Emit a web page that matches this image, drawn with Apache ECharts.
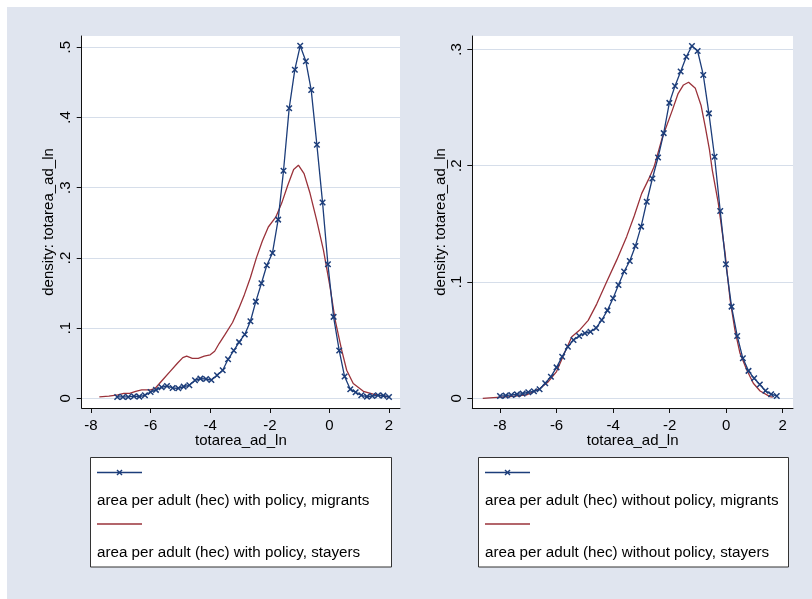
<!DOCTYPE html>
<html><head><meta charset="utf-8">
<script src="https://cdn.jsdelivr.net/npm/echarts@6/dist/echarts.min.js"></script>
<style>
html,body{margin:0;padding:0;background:#fff;}
#bg{position:absolute;left:7px;top:7px;width:805px;height:592px;background:#e0e5ef;}
#chart{position:absolute;left:0;top:0;width:812px;height:599px;}
</style></head><body>
<div id="bg"></div><div id="chart"></div>
<script>
// ---- tick labels ----
const xTicks = [-8, -6, -4, -2, 0, 2];
const yTicksLeft = [0, 0.1, 0.2, 0.3, 0.4, 0.5];
const yTicksRight = [0, 0.1, 0.2, 0.3];

// ---- series names ----
const namesLeft = ['area per adult (hec) with policy, migrants', 'area per adult (hec) with policy, stayers'];
const namesRight = ['area per adult (hec) without policy, migrants', 'area per adult (hec) without policy, stayers'];

// ---- left panel: with policy ----
const withMigrantsX = [-7.12,-6.93,-6.75,-6.56,-6.38,-6.19,-6.00,-5.82,-5.63,-5.45,-5.26,-5.07,-4.89,-4.70,-4.51,-4.33,-4.14,-3.96,-3.77,-3.58,-3.40,-3.21,-3.03,-2.84,-2.65,-2.47,-2.28,-2.10,-1.91,-1.72,-1.54,-1.35,-1.16,-0.98,-0.79,-0.61,-0.42,-0.23,-0.05,0.14,0.33,0.51,0.70,0.88,1.07,1.26,1.44,1.63,1.81,2.00];
const withMigrantsY = [0.002,0.002,0.002,0.003,0.0024,0.0043,0.009,0.012,0.0157,0.0176,0.0147,0.0142,0.0166,0.0185,0.0256,0.028,0.0275,0.026,0.0328,0.040,0.0556,0.068,0.080,0.091,0.1097,0.1377,0.1638,0.1895,0.207,0.2545,0.324,0.413,0.468,0.502,0.480,0.439,0.361,0.279,0.191,0.116,0.068,0.031,0.013,0.0085,0.0043,0.0024,0.0033,0.0043,0.0038,0.002];
const withStayersX = [-7.72,-7.4,-7.1,-6.9,-6.7,-6.5,-6.3,-6.0,-5.85,-5.6,-5.35,-5.1,-4.92,-4.79,-4.6,-4.4,-4.2,-4.0,-3.85,-3.7,-3.5,-3.25,-3.05,-2.85,-2.65,-2.45,-2.25,-2.05,-1.8,-1.6,-1.4,-1.2,-1.04,-0.85,-0.65,-0.43,-0.2,0.02,0.19,0.41,0.58,0.8,1.14,1.47,1.98];
const withStayersY = [0.002,0.003,0.005,0.007,0.007,0.010,0.012,0.012,0.014,0.026,0.038,0.050,0.058,0.060,0.057,0.057,0.060,0.062,0.067,0.078,0.091,0.108,0.127,0.148,0.172,0.200,0.224,0.244,0.258,0.278,0.303,0.326,0.332,0.320,0.292,0.254,0.211,0.159,0.112,0.069,0.040,0.021,0.010,0.006,0.002];

// ---- right panel: without policy ----
const withoutMigrantsX = [-8.00,-7.80,-7.60,-7.40,-7.20,-7.00,-6.80,-6.60,-6.40,-6.20,-6.00,-5.80,-5.60,-5.40,-5.20,-5.00,-4.80,-4.60,-4.40,-4.20,-4.00,-3.81,-3.61,-3.41,-3.21,-3.01,-2.81,-2.61,-2.41,-2.21,-2.01,-1.81,-1.61,-1.41,-1.21,-1.01,-0.81,-0.61,-0.41,-0.21,-0.01,0.19,0.39,0.59,0.79,0.99,1.19,1.39,1.59,1.79];
const withoutMigrantsY = [0.002,0.0023,0.0029,0.0034,0.004,0.0052,0.006,0.0077,0.0129,0.0186,0.0266,0.0358,0.0444,0.0501,0.0536,0.0559,0.0573,0.0605,0.0673,0.0756,0.086,0.0974,0.109,0.118,0.131,0.1476,0.169,0.189,0.207,0.228,0.254,0.2685,0.281,0.2937,0.3029,0.2986,0.278,0.245,0.2077,0.161,0.1152,0.0788,0.0536,0.0344,0.0236,0.0172,0.0118,0.0065,0.0035,0.002];
const withoutStayersX = [-8.61,-8.24,-7.65,-7.06,-6.58,-6.29,-6.00,-5.70,-5.46,-5.17,-4.88,-4.58,-4.23,-3.87,-3.52,-3.25,-2.99,-2.75,-2.55,-2.26,-1.90,-1.70,-1.51,-1.33,-1.09,-0.89,-0.74,-0.59,-0.49,-0.28,-0.04,0.14,0.31,0.49,0.73,0.96,1.20,1.55,1.65];
const withoutStayersY = [0.000,0.0006,0.0014,0.003,0.0086,0.0143,0.023,0.040,0.053,0.059,0.067,0.081,0.100,0.119,0.139,0.157,0.176,0.188,0.199,0.224,0.248,0.262,0.2694,0.2717,0.2665,0.252,0.2335,0.2135,0.196,0.168,0.125,0.0845,0.0587,0.0387,0.0244,0.0129,0.0063,0.0014,0.001];

// ---- styling ----
const BLUE = '#1c3d7a';
const RED = '#9a323a';
const GRID_LINE = '#d6deea';
const FONT = 'Liberation Sans, Arial, sans-serif';
const XMARK = 'path://M0,0L10,10M10,0L0,10';

const zip = (xs, ys) => xs.map((x, i) => [x, ys[i]]);
const yFmt = v => (v === 0 ? '0' : '.' + Math.round(v * 10));

function xAxisCfg(gi, min, max) {
  return {
    type: 'value', gridIndex: gi, min: min, max: max,
    name: 'totarea_ad_ln', nameLocation: 'middle', nameGap: 25, nameMoveOverlap: false,
    nameTextStyle: {fontFamily: FONT, fontSize: 15, color: '#000'},
    axisLine: {show: true, onZero: false, lineStyle: {color: '#111', width: 1}},
    axisTick: {show: true, length: 5, customValues: xTicks, lineStyle: {color: '#111'}},
    axisLabel: {customValues: xTicks, fontFamily: FONT, fontSize: 15, color: '#000', margin: 10},
    splitLine: {show: false}
  };
}
function yAxisCfg(gi, min, max, ticks, gap) {
  return {
    type: 'value', gridIndex: gi, min: min, max: max,
    name: 'density: totarea_ad_ln', nameLocation: 'middle', nameGap: gap, nameRotate: 90,
    nameTextStyle: {fontFamily: FONT, fontSize: 15, color: '#000'},
    axisLine: {show: true, onZero: false, lineStyle: {color: '#111', width: 1}},
    axisTick: {show: true, length: 5, customValues: ticks, lineStyle: {color: '#111'}},
    axisLabel: {customValues: ticks, rotate: 90, formatter: yFmt, fontFamily: FONT, fontSize: 15, color: '#000', margin: 8},
    splitLine: {show: true, lineStyle: {color: GRID_LINE, width: 1}}
  };
}
function migrantSeries(xi, yi, name, data) {
  return {
    type: 'line', name: name, xAxisIndex: xi, yAxisIndex: yi, data: data,
    symbol: XMARK, symbolSize: 5.5, showSymbol: true,
    lineStyle: {color: BLUE, width: 1.3},
    itemStyle: {color: BLUE, borderColor: BLUE, borderWidth: 1.5},
    animation: false, silent: true, z: 3
  };
}
function stayerSeries(xi, yi, name, data) {
  return {
    type: 'line', name: name, xAxisIndex: xi, yAxisIndex: yi, data: data,
    showSymbol: false, symbol: 'none',
    lineStyle: {color: RED, width: 1.3},
    animation: false, silent: true, z: 2
  };
}
function legendBlock(x, y, w, h, names) {
  const lx = x + 6.5, mx = lx + 22.5;
  return [
    {type: 'rect', shape: {x: x, y: y, width: w, height: h}, style: {fill: '#fff', stroke: '#333', lineWidth: 1}},
    {type: 'line', shape: {x1: lx, y1: y + 15, x2: lx + 45, y2: y + 15}, style: {stroke: BLUE, lineWidth: 1.3}},
    {type: 'line', shape: {x1: mx - 2.5, y1: y + 12.5, x2: mx + 2.5, y2: y + 17.5}, style: {stroke: BLUE, lineWidth: 1.4}},
    {type: 'line', shape: {x1: mx + 2.5, y1: y + 12.5, x2: mx - 2.5, y2: y + 17.5}, style: {stroke: BLUE, lineWidth: 1.4}},
    {type: 'text', x: lx, y: y + 43.5, style: {text: names[0], font: '15.2px ' + FONT, fill: '#000', verticalAlign: 'middle'}},
    {type: 'line', shape: {x1: lx, y1: y + 66.5, x2: lx + 45, y2: y + 66.5}, style: {stroke: RED, lineWidth: 1.3}},
    {type: 'text', x: lx, y: y + 95, style: {text: names[1], font: '15.2px ' + FONT, fill: '#000', verticalAlign: 'middle'}}
  ];
}

const chart = echarts.init(document.getElementById('chart'), null, {renderer: 'canvas'});
chart.setOption({
  backgroundColor: 'transparent',
  animation: false,
  grid: [
    {left: 81.7, top: 36, width: 318.3, height: 372, show: true, backgroundColor: '#fff', borderWidth: 0},
    {left: 472.3, top: 36, width: 320.7, height: 372, show: true, backgroundColor: '#fff', borderWidth: 0}
  ],
  xAxis: [xAxisCfg(0, -8.312, 2.369), xAxisCfg(1, -8.98, 2.364)],
  yAxis: [yAxisCfg(0, -0.0138, 0.516, yTicksLeft, 25), yAxisCfg(1, -0.00834, 0.3115, yTicksRight, 23)],
  series: [
    stayerSeries(0, 0, namesLeft[1], zip(withStayersX, withStayersY)),
    migrantSeries(0, 0, namesLeft[0], zip(withMigrantsX, withMigrantsY)),
    stayerSeries(1, 1, namesRight[1], zip(withoutStayersX, withoutStayersY)),
    migrantSeries(1, 1, namesRight[0], zip(withoutMigrantsX, withoutMigrantsY))
  ],
  graphic: legendBlock(90.5, 457.5, 301, 109.5, namesLeft).concat(legendBlock(478.5, 457.5, 310, 109.5, namesRight))
});
</script>
</body></html>
